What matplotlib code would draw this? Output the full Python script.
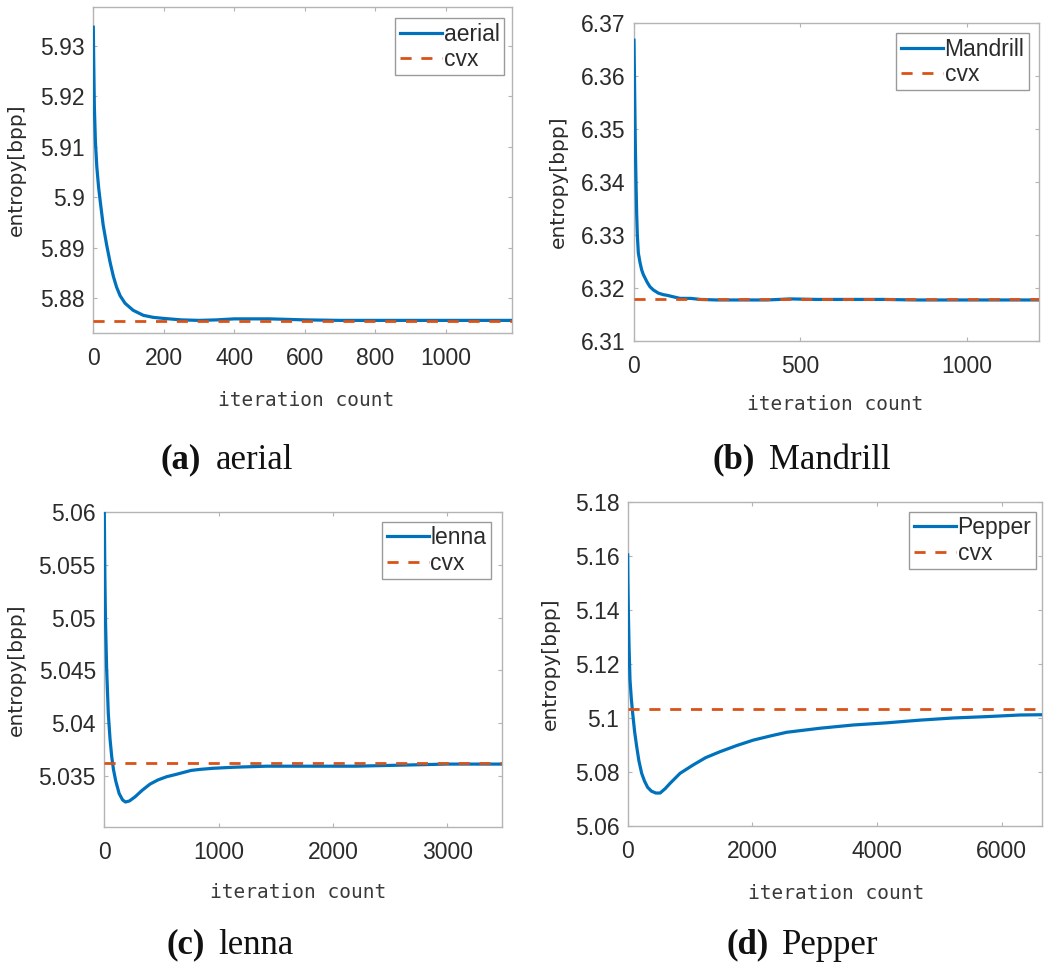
import matplotlib
matplotlib.use("Agg")
import matplotlib.pyplot as plt
from matplotlib.ticker import FuncFormatter

W, H = 1047, 971
BLUE = "#0072BD"
ORANGE = "#D95319"
SPINE = "#b4b4b4"
TXT = "#2b2b2b"

# ---------------- data ----------------
aerial_x = [0, 1, 3, 6, 10, 15, 20, 28, 38, 48, 57, 66, 76, 90, 113, 142, 170, 198,
            250, 300, 350, 400, 450, 500, 550, 600, 700, 800, 900, 1000, 1100, 1188]
aerial_y = [5.9337, 5.928, 5.918, 5.911, 5.906, 5.902, 5.899, 5.8945, 5.8905, 5.887,
            5.8843, 5.8822, 5.8805, 5.8790, 5.8776, 5.8766, 5.8762, 5.876, 5.8757, 5.8756,
            5.8757, 5.8759, 5.8759, 5.8759, 5.8758, 5.8757, 5.8756, 5.8756, 5.8756,
            5.8756, 5.8756, 5.8756]
aerial_cvx = 5.8755

mandrill_x = [0, 2, 4, 6, 8, 10, 13, 18, 23, 28, 40, 48, 58, 73, 88, 98, 118, 138, 170,
              200, 250, 300, 350, 400, 470, 550, 650, 750, 850, 950, 1050, 1150, 1217]
mandrill_y = [6.3668, 6.357, 6.347, 6.340, 6.334, 6.330, 6.3266, 6.3248, 6.3234, 6.3225,
              6.3210, 6.3202, 6.3196, 6.3190, 6.3187, 6.3186, 6.3183, 6.3180, 6.3180,
              6.3178, 6.3177, 6.3177, 6.3177, 6.3177, 6.3179, 6.3178, 6.3178, 6.3178,
              6.3177, 6.3177, 6.3177, 6.3177, 6.3177]
mandrill_cvx = 6.3178

lenna_x = [0, 5, 10, 20, 35, 50, 65, 80, 100, 130, 160, 185, 220, 270, 330, 400, 470,
           545, 620, 690, 760, 840, 950, 1130, 1420, 1800, 2200, 2600, 3000, 3477]
lenna_y = [5.0600, 5.0540, 5.0500, 5.0453, 5.0409, 5.0385, 5.0368, 5.0356, 5.0345,
           5.0333, 5.0327, 5.0325, 5.0326, 5.0330, 5.0336, 5.0342, 5.0346, 5.0349,
           5.0351, 5.0353, 5.0355, 5.0356, 5.0357, 5.0358, 5.0359, 5.0359, 5.0359,
           5.0360, 5.0361, 5.0361]
lenna_cvx = 5.03623

pepper_x = [0, 4, 11, 22, 37, 58, 80, 110, 144, 180, 224, 270, 320, 380, 450, 520, 600,
            680, 840, 1050, 1250, 1480, 1750, 2015, 2300, 2550, 3085, 3619, 4154, 4688,
            5223, 5757, 6292, 6645]
pepper_y = [5.1603, 5.150, 5.1387, 5.126, 5.1140, 5.1070, 5.1016, 5.0950, 5.0893, 5.0840,
            5.0794, 5.0765, 5.0742, 5.0728, 5.0721, 5.0721, 5.0737, 5.0757, 5.0794,
            5.0825, 5.0852, 5.0874, 5.0897, 5.0917, 5.0933, 5.0946, 5.0961, 5.0973,
            5.0981, 5.0991, 5.0999, 5.1004, 5.1010, 5.1011]
pepper_cvx = 5.1033

names = ["aerial", "Mandrill", "lenna", "Pepper"]
letters = ["(a)", "(b)", "(c)", "(d)"]
xs = [aerial_x, mandrill_x, lenna_x, pepper_x]
ys = [aerial_y, mandrill_y, lenna_y, pepper_y]
cvxs = [aerial_cvx, mandrill_cvx, lenna_cvx, pepper_cvx]
xlims = [(0, 1188), (0, 1217), (0, 3477), (0, 6645)]
ylims = [(5.8731, 5.9377), (6.31, 6.37), (5.0301, 5.06), (5.06, 5.18)]
xticks = [[0, 200, 400, 600, 800, 1000], [0, 500, 1000], [0, 1000, 2000, 3000],
          [0, 2000, 4000, 6000]]
yticks = [[5.88, 5.89, 5.90, 5.91, 5.92, 5.93],
          [6.31, 6.32, 6.33, 6.34, 6.35, 6.36, 6.37],
          [5.035, 5.04, 5.045, 5.05, 5.055, 5.06],
          [5.06, 5.08, 5.10, 5.12, 5.14, 5.16, 5.18]]

# ---------------- layout (pixels) ----------------
# left, right, top, bottom
boxes = [(93.3, 512, 7, 333), (634, 1039, 23.3, 340.7),
         (104.3, 501.7, 512.3, 827.3), (627.7, 1042, 501.7, 825.7)]
legend_anchor = [(504, 18), (1029, 33), (491, 521.7), (1036, 511.7)]
ylabel_x = [26, 568, 26, 560]
xlabel_pos = [(306, 400), (835, 405), (298, 892), (836, 893)]
caption_split = [(201, 216), (755, 769), (205, 218), (769, 782)]
caption_y = [460, 460, 945, 945]

fig = plt.figure(figsize=(W / 100, H / 100), dpi=100)
fig.patch.set_facecolor("white")


def fx(px):
    return px / W


def fy(py):
    return 1 - py / H


fmt = FuncFormatter(lambda v, p: "%g" % round(v, 4))

for i in range(4):
    l, r, t, b = boxes[i]
    ax = fig.add_axes([fx(l), fy(b), (r - l) / W, (b - t) / H])
    ax.plot(xs[i], ys[i], color=BLUE, lw=2.3, label=names[i], zorder=3)
    ax.axhline(cvxs[i], color=ORANGE, lw=2.0, ls=(0, (4, 3.5)), label="cvx", zorder=4)
    ax.set_xlim(*xlims[i])
    ax.set_ylim(*ylims[i])
    ax.set_xticks(xticks[i])
    ax.set_yticks(yticks[i])
    ax.yaxis.set_major_formatter(fmt)
    ax.xaxis.set_major_formatter(fmt)
    for s in ax.spines.values():
        s.set_color(SPINE)
        s.set_linewidth(1.0)
    ax.tick_params(direction="in", length=3, width=0.8, color=SPINE,
                   top=True, right=True, labelsize=16.5, labelcolor=TXT)
    ax.tick_params(axis="x", pad=10)
    ax.tick_params(axis="y", pad=6)
    for lab in ax.get_xticklabels() + ax.get_yticklabels():
        lab.set_family(["Liberation Sans", "DejaVu Sans"])

    # y label
    ax.set_ylabel("entropy[bpp]", fontsize=14.5, color=TXT,
                  family=["DejaVu Sans"])
    ax.yaxis.set_label_coords((ylabel_x[i] - l) / (r - l), 0.5)

    # x label
    fig.text(fx(xlabel_pos[i][0]), fy(xlabel_pos[i][1]), "iteration count",
             ha="center", va="center", fontsize=14, color="#3a3a3a",
             family=["DejaVu Sans Mono"])

    # legend
    ax_x = (legend_anchor[i][0] - l) / (r - l)
    ax_y = (b - legend_anchor[i][1]) / (b - t)
    leg = ax.legend(loc="upper right", bbox_to_anchor=(ax_x, ax_y),
                    borderaxespad=0, fancybox=False, framealpha=1,
                    edgecolor="#9a9a9a", handlelength=1.85,
                    handletextpad=0.05, borderpad=0.2, labelspacing=0.1,
                    prop={"family": ["Liberation Sans", "DejaVu Sans"], "size": 16.5})
    leg.get_frame().set_linewidth(1.0)
    for t_ in leg.get_texts():
        t_.set_color(TXT)

    # caption
    sx0, sx1 = caption_split[i]
    fig.text(fx(sx0), fy(caption_y[i]), letters[i], ha="right", va="center",
             fontsize=25, fontweight="bold", family=["Liberation Serif"], color="#111111")
    fig.text(fx(sx1), fy(caption_y[i]), names[i], ha="left", va="center",
             fontsize=25, family=["Liberation Serif"], color="#111111")

fig.savefig("out.png", dpi=100, facecolor="white")
